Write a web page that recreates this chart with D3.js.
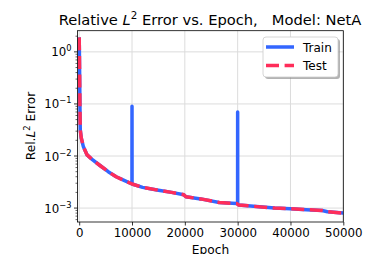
<!DOCTYPE html>
<html>
<head>
<meta charset="utf-8">
<script src="https://cdn.jsdelivr.net/npm/d3@7"></script>
<style>
  body { margin: 0; background: #fff; }
  svg { display: block; font-family: "DejaVu Sans", sans-serif; }
  .grid line { stroke: #dcdcdc; stroke-width: 1; }
</style>
</head>
<body>
<svg width="382" height="254"></svg>
<script>
// test curve
var testEpochs = [0, 50, 100, 150, 200, 400, 800, 1500, 2500, 4000, 5500, 7000, 8500, 10000,
  12000, 15000, 17500, 19800, 20200, 23000, 26500, 29800, 30200, 33000, 37000, 40000,
  43000, 46000, 47000, 50000];
var testValues = [1.9, 0.8, 0.25, 0.08, 0.032, 0.022, 0.015, 0.0105, 0.0085, 0.0065, 0.005,
  0.004, 0.0034, 0.0029, 0.0025, 0.0022, 0.002, 0.0018, 0.00165, 0.0015, 0.00128, 0.00122,
  0.00115, 0.00108, 0.001, 0.00097, 0.00093, 0.0009, 0.00085, 0.0008];

// train curve, same path plus the two spikes
var trainEpochs = [0, 50, 100, 150, 200, 400, 800, 1500, 2500, 4000, 5500, 7000, 8500, 9990,
  10000, 10010, 12000, 15000, 17500, 19800, 20200, 23000, 26500, 29800, 29990, 30000, 30010,
  30200, 33000, 37000, 40000, 43000, 46000, 47000, 50000];
var trainValues = [1.9, 0.8, 0.25, 0.08, 0.032, 0.022, 0.015, 0.0105, 0.0085, 0.0065, 0.005,
  0.004, 0.0034, 0.0029, 0.09, 0.0029, 0.0025, 0.0022, 0.002, 0.0018, 0.00165, 0.0015,
  0.00128, 0.00122, 0.0012, 0.07, 0.0012, 0.00115, 0.00108, 0.001, 0.00097, 0.00093,
  0.0009, 0.00085, 0.0008];

var xTicks = [0, 10000, 20000, 30000, 40000, 50000];
var yTickExps = [0, -1, -2, -3];

var svg = d3.select("svg");
var L = 77.5, R = 343.3, T = 30.7, B = 222;

var x = d3.scaleLinear().domain([-320, 50000]).range([L, R]);
var y = d3.scaleLog().domain([5.4e-4, 2.55]).range([B, T]);

svg.append("defs").append("clipPath").attr("id", "clip")
  .append("rect").attr("x", L).attr("y", T).attr("width", R - L).attr("height", B - T);

// grid
var grid = svg.append("g").attr("class", "grid");
grid.selectAll(".gx").data(xTicks).enter().append("line")
  .attr("x1", d => x(d)).attr("x2", d => x(d)).attr("y1", T).attr("y2", B);
grid.selectAll(".gy").data(yTickExps).enter().append("line")
  .attr("x1", L).attr("x2", R).attr("y1", d => y(Math.pow(10, d))).attr("y2", d => y(Math.pow(10, d)));

// lines
var line = d3.line().x(d => x(d[0])).y(d => y(d[1]));
var plot = svg.append("g").attr("clip-path", "url(#clip)");
plot.append("path")
  .datum(trainEpochs.map((e, i) => [e, trainValues[i]]))
  .attr("d", line).attr("fill", "none")
  .attr("stroke", "#3366ff").attr("stroke-width", 3.5)
  .attr("stroke-linejoin", "round");
plot.append("path")
  .datum(testEpochs.map((e, i) => [e, testValues[i]]))
  .attr("d", line).attr("fill", "none")
  .attr("stroke", "#ff2d5a").attr("stroke-width", 3.5)
  .attr("stroke-dasharray", "13,5.6").attr("stroke-linejoin", "round");

// frame
svg.append("rect").attr("x", L).attr("y", T).attr("width", R - L).attr("height", B - T)
  .attr("fill", "none").attr("stroke", "#000").attr("stroke-width", 0.8);

// x axis
var xAxis = svg.append("g").attr("transform", "translate(0," + B + ")")
  .call(d3.axisBottom(x).tickValues(xTicks).tickFormat(d3.format("d")).tickSizeInner(3.5).tickSizeOuter(0).tickPadding(3.5));
xAxis.select(".domain").remove();
xAxis.selectAll("text").attr("font-size", 11.8).attr("fill", "#000").attr("font-family", "DejaVu Sans");
xAxis.selectAll("line").attr("stroke-width", 0.8);

// y axis, major + minor
var minor = [];
for (var e = -4; e <= 0; e++) for (var m = 2; m <= 9; m++) {
  var v = m * Math.pow(10, e);
  if (v >= 5.4e-4 && v <= 2.55) minor.push(v);
}
var yg = svg.append("g");
yg.selectAll(".minor").data(minor).enter().append("line")
  .attr("x1", L - 2).attr("x2", L).attr("y1", d => y(d)).attr("y2", d => y(d))
  .attr("stroke", "#000").attr("stroke-width", 0.6);
yg.selectAll(".major").data(yTickExps).enter().append("line")
  .attr("x1", L - 3.5).attr("x2", L).attr("y1", d => y(Math.pow(10, d))).attr("y2", d => y(Math.pow(10, d)))
  .attr("stroke", "#000").attr("stroke-width", 0.8);
var yl = yg.selectAll(".lab").data(yTickExps).enter().append("text")
  .attr("x", L - 6).attr("y", d => y(Math.pow(10, d)) + 4.5)
  .attr("text-anchor", "end").attr("font-size", 11.8);
yl.append("tspan").text("10");
yl.append("tspan").attr("dy", -5).attr("font-size", 8.3).text(d => d === 0 ? "0" : "\u2212" + (-d));

// title
var title = svg.append("text").attr("x", 210).attr("y", 25).attr("text-anchor", "middle").attr("font-size", 14.7);
title.append("tspan").text("Relative ");
title.append("tspan").attr("font-style", "italic").text("L");
title.append("tspan").attr("dy", -6).attr("font-size", 10.3).text("2");
title.append("tspan").attr("dy", 6).text(" Error vs. Epoch,\u00a0\u00a0\u00a0Model: NetA");

// axis labels
svg.append("text").attr("x", 210.5).attr("y", 254).attr("text-anchor", "middle").attr("font-size", 12.2).text("Epoch");
var ylab = svg.append("text").attr("transform", "translate(35,126) rotate(-90)")
  .attr("text-anchor", "middle").attr("font-size", 12.2);
ylab.append("tspan").text("Rel.");
ylab.append("tspan").attr("font-style", "italic").text("L");
ylab.append("tspan").attr("dy", -5).attr("font-size", 8.5).text("2");
ylab.append("tspan").attr("dy", 5).text(" Error");

// legend
var lg = svg.append("g").attr("transform", "translate(263,37)");
lg.append("rect").attr("x", 2).attr("y", 2).attr("width", 75).attr("height", 40).attr("rx", 3)
  .attr("fill", "#808080").attr("opacity", 0.6);
lg.append("rect").attr("width", 75).attr("height", 40).attr("rx", 3)
  .attr("fill", "#fff").attr("stroke", "#ccc").attr("stroke-width", 0.8);
var legendItems = [["Train", "#3366ff", null], ["Test", "#ff2d5a", "13,5.6"]];
lg.selectAll(".item").data(legendItems).enter().append("g")
  .attr("transform", (d, i) => "translate(0," + (10 + i * 18.5) + ")")
  .each(function (d) {
    var g = d3.select(this);
    g.append("line").attr("x1", 3).attr("x2", 31).attr("stroke", d[1]).attr("stroke-width", 3.5)
      .attr("stroke-dasharray", d[2]);
    g.append("text").attr("x", 40).attr("y", 4.5).attr("font-size", 12).text(d[0]);
  });
</script>
</body>
</html>
